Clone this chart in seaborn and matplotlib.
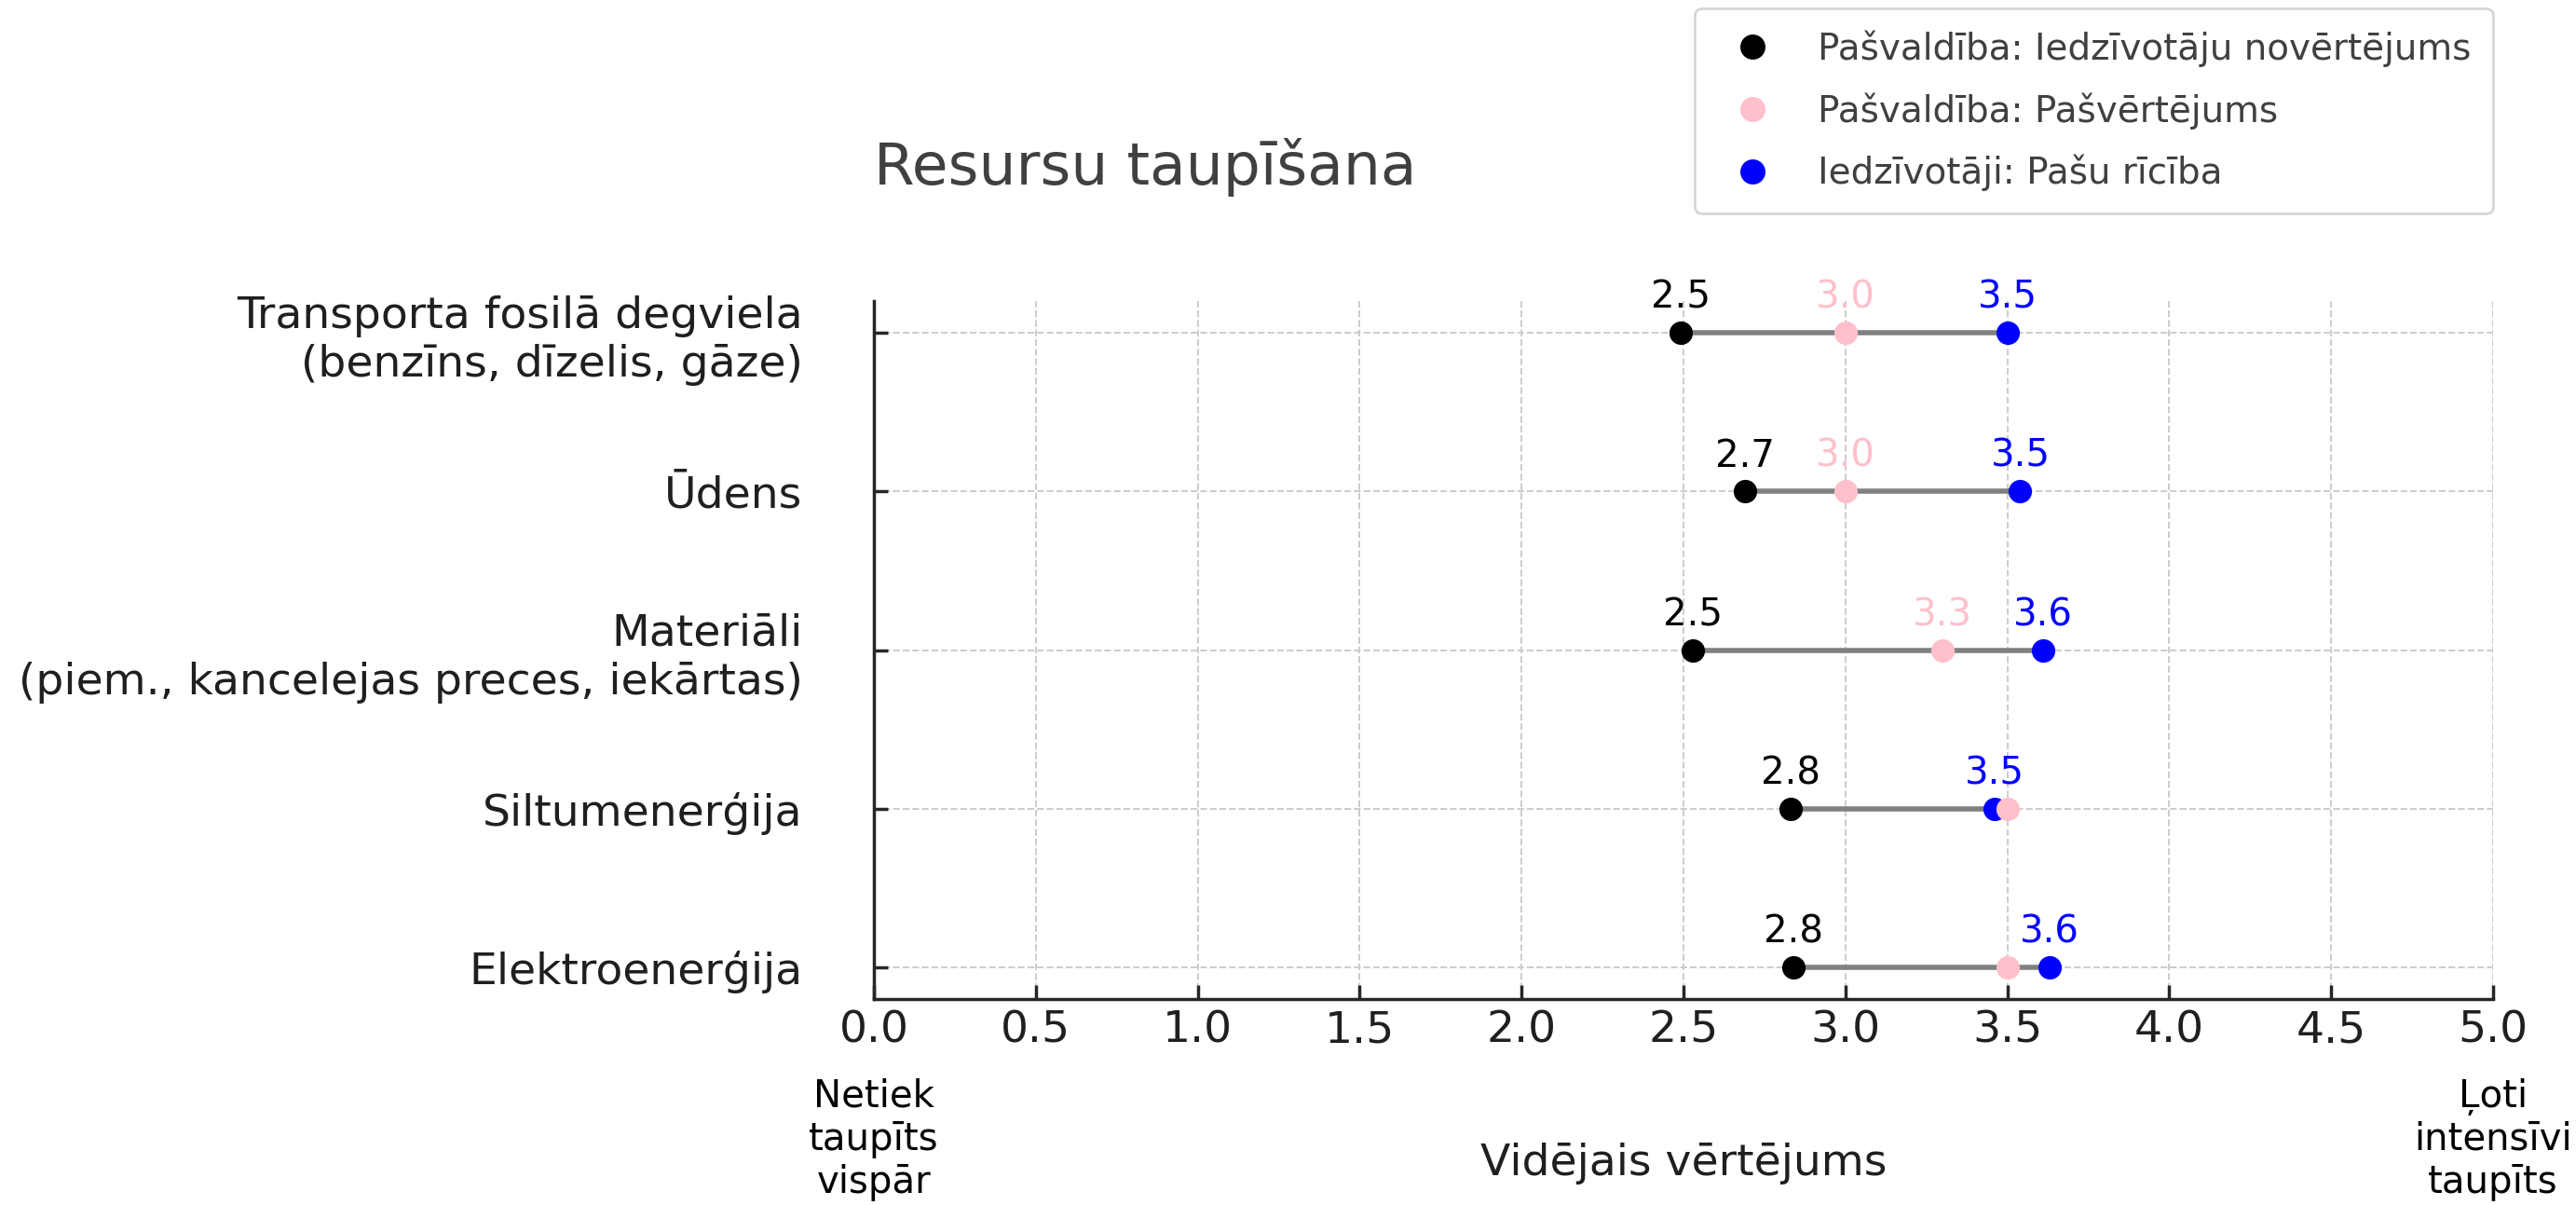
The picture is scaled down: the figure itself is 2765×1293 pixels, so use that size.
import numpy as np
import pandas as pd
import seaborn as sns
import matplotlib.pyplot as plt
from matplotlib.lines import Line2D
import matplotlib.transforms as mtransforms

# resources, top to bottom
categories = [
    "Transporta fosilā degviela\n(benzīns, dīzelis, gāze)",
    "Ūdens",
    "Materiāli\n(piem., kancelejas preces, iekārtas)",
    "Siltumenerģija",
    "Elektroenerģija",
]
resident_rating = [2.49, 2.69, 2.53, 2.83, 2.84]   # Pašvaldība: Iedzīvotāju novērtējums
self_rating = [3.00, 3.00, 3.30, 3.50, 3.50]       # Pašvaldība: Pašvērtējums
resident_action = [3.50, 3.54, 3.61, 3.46, 3.63]   # Iedzīvotāji: Pašu rīcība

series_names = [
    "Pašvaldība: Iedzīvotāju novērtējums",
    "Pašvaldība: Pašvērtējums",
    "Iedzīvotāji: Pašu rīcība",
]
series_colors = ["black", "pink", "blue"]
x_ticks = np.arange(0, 5.01, 0.5)
scale_low = "Netiek\ntaupīts\nvispār"
scale_high = "Ļoti\nintensīvi\ntaupīts"

sns.set_theme(style="whitegrid")
plt.rcParams["font.family"] = ["DejaVu Sans"]

df = pd.DataFrame({
    "resource": categories,
    "pos": np.arange(len(categories))[::-1],
    "black": resident_rating,
    "pink": self_rating,
    "blue": resident_action,
})

fig = plt.figure(figsize=(13.825, 6.465), dpi=200)
ax = fig.add_axes([0.33924, 0.17092, 0.62857, 0.57927])

# connecting line from residents' rating to residents' own action
ax.hlines(df["pos"], df["black"], df["blue"], color="grey", lw=2.0, zorder=2)

sns.scatterplot(data=df, x="black", y="pos", color="black", s=82, linewidth=0, ax=ax, zorder=3)
sns.scatterplot(data=df, x="blue", y="pos", color="blue", s=82, linewidth=0, ax=ax, zorder=3)
sns.scatterplot(data=df, x="pink", y="pos", color="pink", s=82, linewidth=0, ax=ax, zorder=4)

for _, row in df.iterrows():
    for col in ["black", "blue"]:
        ax.annotate(f"{row[col]:.1f}", (row[col], row["pos"]), xytext=(0, 9.5),
                    textcoords="offset points", ha="center", va="baseline",
                    fontsize=14.5, color=col)
    # pink value label only when it does not collide with the blue one
    if abs(row["pink"] - row["blue"]) >= 0.2:
        ax.annotate(f"{row['pink']:.1f}", (row["pink"], row["pos"]), xytext=(0, 9.5),
                    textcoords="offset points", ha="center", va="baseline",
                    fontsize=14.5, color="pink")

ax.set_xlim(0, 5)
ax.set_ylim(-0.2, len(categories) - 0.8)
ax.set_xticks(x_ticks)
ax.set_xticklabels([f"{t:.1f}" for t in x_ticks])
ax.set_yticks(df["pos"])
ax.set_yticklabels(df["resource"], ha="right", multialignment="right")

ax.grid(True, ls="--", color="0.8", lw=0.7)
for side in ["top", "right"]:
    ax.spines[side].set_visible(False)
for side in ["left", "bottom"]:
    ax.spines[side].set_color(".15")
    ax.spines[side].set_linewidth(1.25)
ax.tick_params(axis="both", bottom=True, left=True, direction="in", length=5.5,
               width=1.25, color=".15", labelsize=17, labelcolor=".12")
ax.tick_params(axis="y", pad=27.5)
ax.tick_params(axis="x", pad=4)

ax.set_ylabel("")
ax.set_xlabel("Vidējais vērtējums", fontsize=17, color=".12")
ax.xaxis.set_label_coords(0.5, -0.205)

trans = mtransforms.blended_transform_factory(ax.transData, ax.transAxes)
for xv, txt in [(0, scale_low), (5, scale_high)]:
    ax.annotate(txt, (xv, 0), xycoords=trans, xytext=(0, -30.5), textcoords="offset points",
                ha="center", va="top", fontsize=14.5, color="black", linespacing=1.2,
                annotation_clip=False)

ax.set_title("Resursu taupīšana", loc="left", fontsize=22.7, color="0.25", pad=45)

handles = [Line2D([], [], marker="o", ls="none", color=c, markersize=8.7) for c in series_colors]
leg = fig.legend(handles, series_names, loc="upper right", bbox_to_anchor=(0.9678, 0.993),
                 fontsize=14, frameon=True, borderaxespad=0, handletextpad=0.8,
                 labelspacing=0.7, borderpad=0.6)
for t in leg.get_texts():
    t.set_color("0.25")
leg.get_frame().set_edgecolor("0.8")

fig.savefig("out.png", dpi=200)
